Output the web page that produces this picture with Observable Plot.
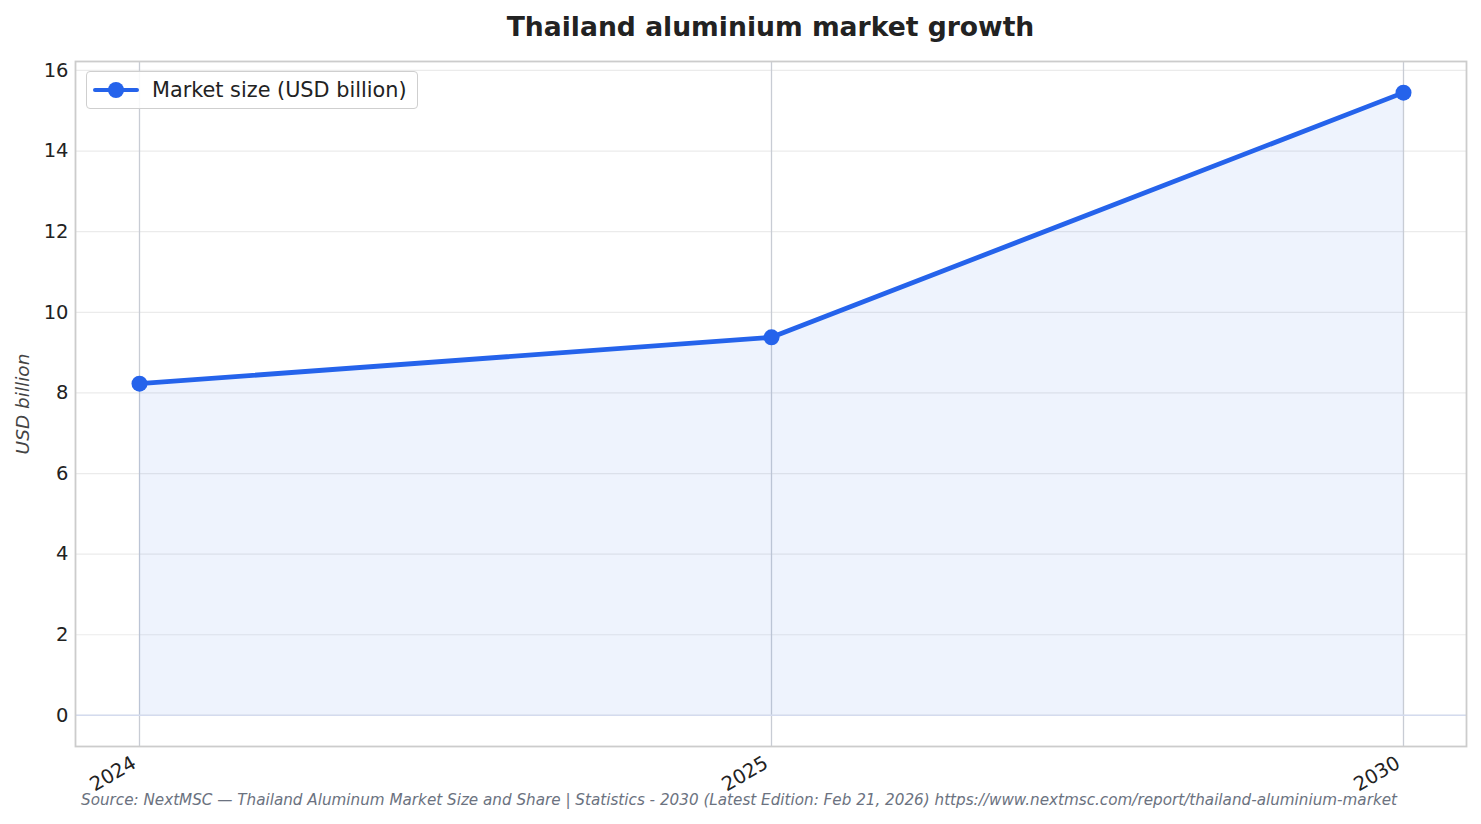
<!DOCTYPE html>
<html>
<head>
<meta charset="utf-8">
<script src="https://cdn.jsdelivr.net/npm/d3@7"></script>
<script src="https://cdn.jsdelivr.net/npm/@observablehq/plot@0.6"></script>
<style>
  html, body { margin: 0; padding: 0; background: #fff; }
  body { font-family: "DejaVu Sans", sans-serif; }
  #wrap { position: relative; width: 1481px; height: 824px; overflow: hidden; }
  #title { position: absolute; left: 75px; width: 1391px; top: 10px; text-align: center;
           font-weight: bold; font-size: 26.6px; color: #222; line-height: 34px; }
  #caption { position: absolute; left: 0; width: 1478px; top: 790px; text-align: center;
             font-style: italic; font-size: 15.2px; color: #6b7280; line-height: 20px; }
  #legend { position: absolute; left: 86px; top: 71px; width: 332px; height: 38px;
            border: 1.5px solid #cfcfcf; border-radius: 4px; background: rgba(255,255,255,0.85);
            box-sizing: border-box; }
  #legend .ln { position: absolute; left: 6px; top: 16px; width: 46px; height: 4px; background: #2563eb; border-radius: 2px; }
  #legend .dt { position: absolute; left: 21px; top: 10px; width: 16px; height: 16px; border-radius: 50%; background: #2563eb; }
  #legend .tx { position: absolute; left: 65px; top: 5px; font-size: 20.8px; color: #222; line-height: 26px; }
  #chart { position: absolute; left: 0; top: 0; }
</style>
</head>
<body>
<div id="wrap">
  <div id="chart"></div>
  <div id="title">Thailand aluminium market growth</div>
  <div id="legend"><div class="ln"></div><div class="dt"></div><div class="tx">Market size (USD billion)</div></div>
  <div id="caption">Source: NextMSC — Thailand Aluminum Market Size and Share | Statistics - 2030 (Latest Edition: Feb 21, 2026) https://www.nextmsc.com/report/thailand-aluminium-market</div>
</div>
<script>
const years = ["2024", "2025", "2030"];
const marketSize = [8.23, 9.38, 15.45];
const yTicks = [0, 2, 4, 6, 8, 10, 12, 14, 16];

const data = years.map((y, i) => ({year: y, value: marketSize[i]}));

const chart = Plot.plot({
  width: 1481,
  height: 824,
  marginTop: 61,
  marginBottom: 78,
  marginLeft: 75,
  marginRight: 15,
  style: {fontFamily: "DejaVu Sans, sans-serif", background: "#fff"},
  x: {type: "point", domain: years, padding: 0.1},
  y: {domain: [-0.7725, 16.2225]},
  marks: [
    Plot.gridY(yTicks, {stroke: "#ebebeb", strokeOpacity: 1, strokeWidth: 1.2}),
    Plot.gridX(years, {stroke: "#c8ccd4", strokeOpacity: 1, strokeWidth: 1.3}),
    Plot.areaY(data, {x: "year", y: "value", fill: "#2563eb", fillOpacity: 0.08}),
    Plot.ruleY([0], {stroke: "#d4dbee", strokeWidth: 1.5}),
    Plot.line(data, {x: "year", y: "value", stroke: "#2563eb", strokeWidth: 4.8}),
    Plot.dot(data, {x: "year", y: "value", r: 8, fill: "#2563eb"}),
    Plot.axisY(yTicks, {tickSize: 0, tickPadding: 7, fontSize: 19.5, color: "#222", label: null}),
    Plot.axisX(years, {tickSize: 0, tickPadding: 15, tickRotate: -30, textAnchor: "end", fontSize: 19.5, color: "#222", label: null, dx: -5}),
    Plot.text(["USD billion"], {frameAnchor: "left", textAnchor: "middle", dx: -52, rotate: -90, fontSize: 18.5, fontStyle: "italic", fill: "#444"}),
    Plot.frame({stroke: "#cccccc", strokeWidth: 1.8})
  ]
});
document.getElementById("chart").appendChild(chart);
</script>
</body>
</html>
